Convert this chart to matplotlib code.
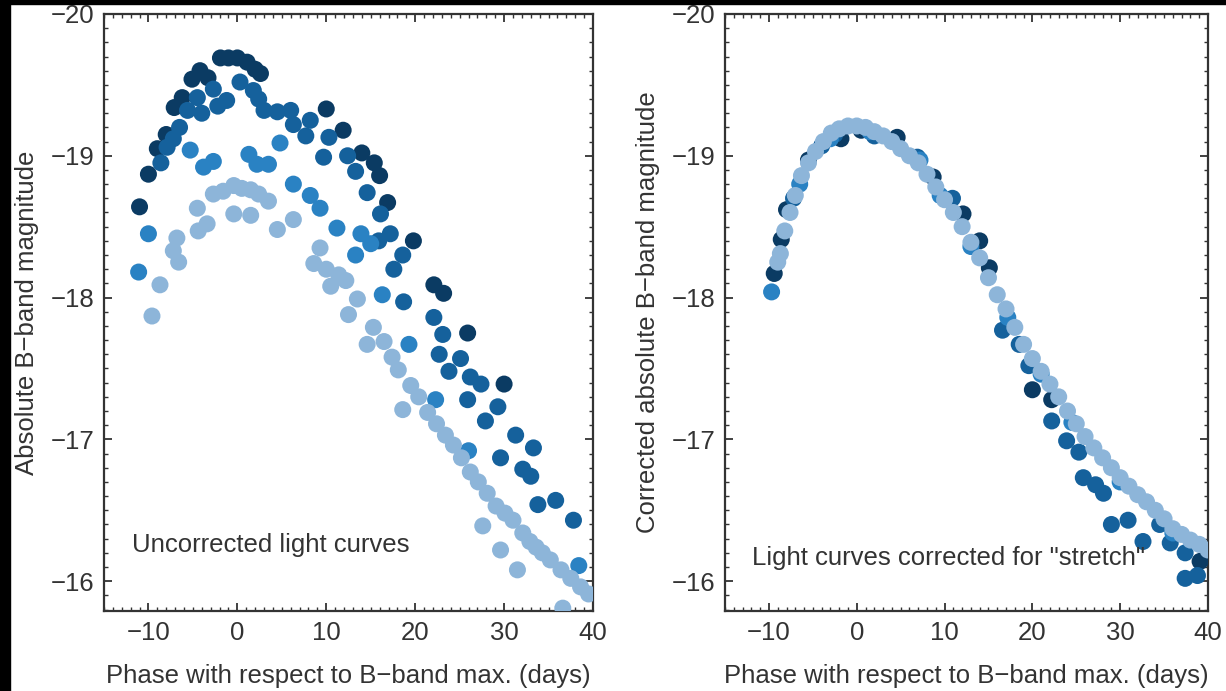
import matplotlib.pyplot as plt
from matplotlib.patches import Rectangle
from matplotlib.ticker import MultipleLocator

plt.rcParams["font.family"] = ["Liberation Sans", "DejaVu Sans"]

# ---- left panel: uncorrected light curves (phase in days, abs. B mag)
dark_t = [-11.0, -10.0, -9.0, -8.0, -7.1, -6.2, -5.1, -4.2, -3.3, -1.9, -1.0, 0.0,
          1.1, 2.0, 2.6, 10.0, 11.9, 14.0, 15.4, 16.0, 16.9, 19.8, 22.1, 23.2, 25.9, 30.0]
dark_m = [-18.64, -18.87, -19.05, -19.15, -19.34, -19.41, -19.54, -19.60, -19.55, -19.69,
          -19.69, -19.69, -19.66, -19.61, -19.58, -19.33, -19.18, -19.02, -18.95, -18.86,
          -18.67, -18.40, -18.09, -18.03, -17.75, -17.39]

mid_t = [-8.6, -7.9, -7.2, -6.5, -5.6, -4.5, -4.0, -2.7, -2.2, -1.2, 0.3, 1.8, 2.4, 3.0,
         4.5, 6.0, 6.3, 7.7, 8.2, 9.7, 10.3, 12.4, 13.3, 14.6, 16.1, 17.2, 15.9, 18.6, 17.6,
         18.7, 22.1, 23.1, 22.7, 23.8, 25.1, 26.2, 27.4, 25.9, 27.9, 29.3, 29.6, 31.3, 33.3,
         32.1, 33.0, 33.8, 35.8, 37.8]
mid_m = [-18.95, -19.06, -19.12, -19.20, -19.32, -19.41, -19.30, -19.47, -19.35, -19.39,
         -19.52, -19.46, -19.40, -19.32, -19.31, -19.32, -19.22, -19.14, -19.25, -18.99,
         -19.13, -19.00, -18.89, -18.74, -18.59, -18.45, -18.40, -18.30, -18.20, -17.97,
         -17.86, -17.74, -17.60, -17.48, -17.57, -17.44, -17.39, -17.28, -17.13, -17.23,
         -16.87, -17.03, -16.94, -16.79, -16.74, -16.54, -16.57, -16.43]

med_t = [-11.1, -10.0, -5.3, -3.8, -2.7, 1.3, 2.2, 3.5, 4.8, 6.3, 8.2, 9.3, 11.2, 13.9,
         13.3, 15.0, 16.3, 19.3, 22.3, 26.0, 38.4]
med_m = [-18.18, -18.45, -19.04, -18.92, -18.96, -19.01, -18.94, -18.94, -19.09, -18.80,
         -18.72, -18.63, -18.49, -18.45, -18.30, -18.38, -18.02, -17.67, -17.28, -16.92,
         -16.11]

light_t = [-9.6, -8.7, -7.2, -6.8, -6.6, -4.5, -4.4, -3.4, -2.7, -1.6, -0.4, 0.5, 1.5,
           2.4, 3.5, -0.4, 1.5, 4.5, 6.3, 9.3, 8.6, 10.0, 11.4, 12.2, 10.5, 13.5, 12.5,
           15.3, 16.5, 14.6, 17.4, 18.1, 19.5, 20.4, 18.6, 21.4, 22.4, 23.4, 24.3, 25.2,
           26.2, 27.1, 28.1, 29.1, 30.1, 31.0, 32.1, 32.9, 33.6, 34.3, 35.2, 36.4, 37.5,
           38.6, 39.5, 27.6, 29.6, 31.5, 36.6]
light_m = [-17.87, -18.09, -18.33, -18.42, -18.25, -18.63, -18.47, -18.52, -18.73, -18.75,
           -18.79, -18.77, -18.76, -18.73, -18.68, -18.59, -18.58, -18.48, -18.55, -18.35,
           -18.24, -18.20, -18.16, -18.12, -18.08, -17.99, -17.88, -17.79, -17.69, -17.67,
           -17.58, -17.49, -17.38, -17.30, -17.21, -17.19, -17.11, -17.03, -16.96, -16.87,
           -16.77, -16.70, -16.62, -16.53, -16.48, -16.43, -16.34, -16.28, -16.24, -16.20,
           -16.15, -16.08, -16.02, -15.96, -15.91, -16.39, -16.22, -16.08, -15.81]

# ---- right panel: stretch-corrected light curves
c_dark_t = [-9.4, -8.6, -8.0, -5.5, -1.8, 0.5, 4.6, 8.7, 12.1, 14.0, 15.1, 20.0, 22.2, 39.1]
c_dark_m = [-18.17, -18.41, -18.62, -18.97, -19.12, -19.18, -19.13, -18.85, -18.59,
            -18.40, -18.21, -17.35, -17.28, -16.14]

c_mid_t = [-7.2, -4.0, -2.5, 2.0, 6.9, 10.9, 16.6, 18.5, 19.6, 22.2, 23.9, 25.3, 25.8,
           27.2, 28.1, 29.0, 30.9, 32.6, 34.5, 35.7, 37.4, 37.4, 38.8]
c_mid_m = [-18.70, -19.07, -19.15, -19.14, -18.99, -18.70, -17.77, -17.67, -17.52, -17.13,
           -16.99, -16.91, -16.73, -16.68, -16.62, -16.40, -16.43, -16.28, -16.40, -16.27,
           -16.20, -16.02, -16.04]

c_med_t = [-9.7, -6.5, -3.0, 1.5, 7.2, 9.5, 13.0, 17.2, 21.0, 24.5, 30.0, 36.0]
c_med_m = [-18.04, -18.80, -19.12, -19.17, -18.97, -18.72, -18.36, -17.86, -17.46, -17.12,
           -16.70, -16.34]

c_light_t = [-9.0, -8.7, -8.2, -7.6, -7.0, -6.3, -5.5, -4.7, -3.8, -2.9, -2.0, -1.0, 0.0,
             1.0, 2.0, 3.0, 4.0, 5.0, 6.0, 7.0, 8.0, 9.0, 10.0, 11.0, 12.0, 13.0, 14.0,
             15.0, 16.0, 17.0, 18.0, 19.0, 20.0, 21.0, 22.0, 23.0, 24.0, 25.0, 26.0, 27.0,
             28.0, 29.0, 30.0, 31.0, 32.0, 33.0, 34.0, 35.0, 36.0, 37.0, 38.0, 39.0, 40.0]
c_light_m = [-18.25, -18.31, -18.47, -18.60, -18.72, -18.86, -18.95, -19.03, -19.10,
             -19.16, -19.19, -19.21, -19.21, -19.20, -19.17, -19.14, -19.10, -19.05,
             -19.00, -18.95, -18.87, -18.78, -18.69, -18.60, -18.50, -18.39, -18.28,
             -18.14, -18.02, -17.92, -17.79, -17.67, -17.57, -17.48, -17.39, -17.30,
             -17.20, -17.11, -17.02, -16.94, -16.87, -16.80, -16.73, -16.67, -16.61,
             -16.56, -16.50, -16.44, -16.37, -16.33, -16.29, -16.26, -16.22]

colors = ["#0b3b63", "#15619c", "#2a82c3", "#8db5d9"]
ink = "#333333"
fs = 18.5

fig = plt.figure(figsize=(12.26, 6.91), dpi=100)
fig.patches.append(Rectangle((0, 0), 0.0078, 1, transform=fig.transFigure,
                             color="black", zorder=0))
fig.patches.append(Rectangle((0, 0.9942), 1, 0.0058, transform=fig.transFigure,
                             color="black", zorder=0))

ax1 = fig.add_axes([0.0848, 0.1158, 0.3989, 0.864])
ax2 = fig.add_axes([0.5914, 0.1158, 0.3939, 0.864])

left = [(dark_t, dark_m), (mid_t, mid_m), (med_t, med_m), (light_t, light_m)]
right = [(c_dark_t, c_dark_m), (c_mid_t, c_mid_m), (c_med_t, c_med_m), (c_light_t, c_light_m)]

for ax, series in [(ax1, left), (ax2, right)]:
    for (t, m), col in zip(series, colors):
        ax.scatter(t, m, s=150, color=col, edgecolors="none", zorder=3)
    ax.set_xlim(-15, 40)
    ax.set_ylim(-15.79, -20)
    ax.xaxis.set_major_locator(MultipleLocator(10))
    ax.xaxis.set_minor_locator(MultipleLocator(1))
    ax.yaxis.set_major_locator(MultipleLocator(1))
    ax.yaxis.set_minor_locator(MultipleLocator(0.1))
    ax.tick_params(which="both", direction="in", top=True, right=True,
                   color=ink, labelcolor=ink, labelsize=fs, pad=7)
    ax.tick_params(which="major", length=6, width=1.3)
    ax.tick_params(which="minor", length=3, width=1.0)
    for sp in ax.spines.values():
        sp.set_linewidth(1.6)
        sp.set_color(ink)
    ax.set_xlabel("Phase with respect to B\u2212band max. (days)", fontsize=fs,
                  color=ink, labelpad=14)

ax1.set_ylabel("Absolute B\u2212band magnitude", fontsize=fs, color=ink, labelpad=8)
ax2.set_ylabel("Corrected absolute B\u2212band magnitude", fontsize=fs, color=ink, labelpad=8)

ax1.text(0.057, 0.11, "Uncorrected light curves", transform=ax1.transAxes,
         fontsize=fs, color=ink, va="center", ha="left")
ax2.text(0.056, 0.088, 'Light curves corrected for "stretch"', transform=ax2.transAxes,
         fontsize=fs, color=ink, va="center", ha="left")

fig.savefig("out.png", dpi=100)
